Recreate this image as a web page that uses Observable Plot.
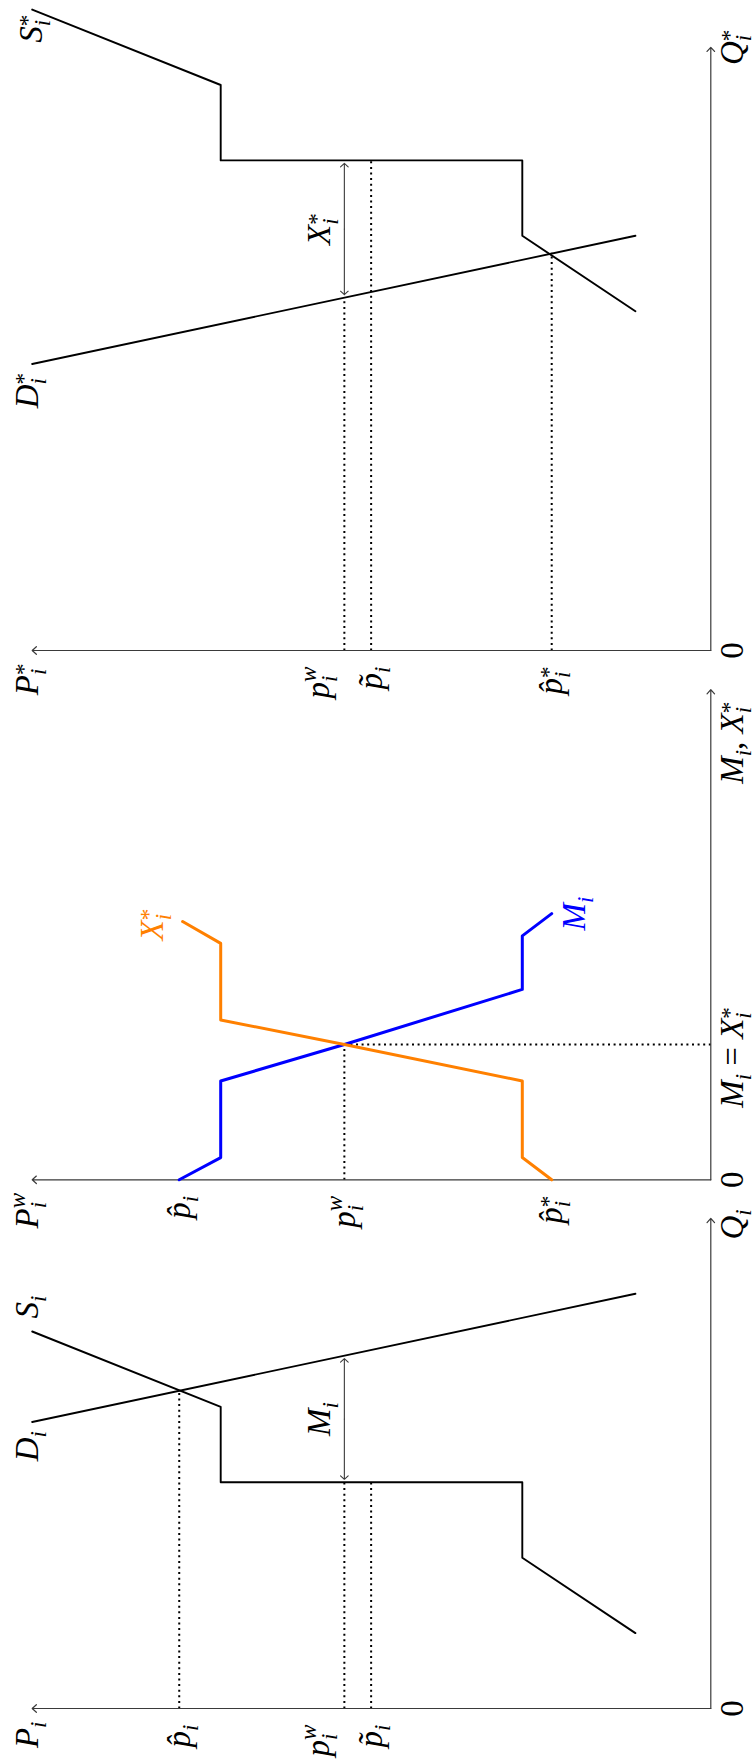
<!DOCTYPE html>
<html><head><meta charset="utf-8">
<script src="https://cdn.jsdelivr.net/npm/d3@7"></script>
<script src="https://cdn.jsdelivr.net/npm/@observablehq/plot@0.6"></script>
<style>
html,body{margin:0;padding:0;background:#fff;overflow:hidden;width:755px;height:1761px;}
#stage{position:absolute;left:0;top:0;width:1761px;height:755px;transform-origin:0 0;transform:translate(0px,1761px) rotate(-90deg);}
#stage svg{position:absolute;left:0;top:0;}
</style></head><body><div id="stage"></div>
<script>
// ---------- data (quantity Q, price P) ----------
const P_TOP = 18;
const Q_TOP = [13, 13, 16];
const pHat = 14.1;      // home autarky price
const pWorld = 9.72;    // world price
const pTilde = 9.01;
const pHatStar = 4.22;  // foreign autarky price

// home market
const homeSupplyQ = [2, 4, 6, 6, 8, 10];
const homeSupplyP = [2, 5, 5, 13, 13, 18];
const homeDemandQ = [7.6, 11];
const homeDemandP = [18, 2];
const homeAutarkyQ = 8.43;

// trade panel
const importQ = [0, 0.59, 2.62, 3.59, 5.05, 6.47, 7.06];
const importP = [14.1, 13, 13, 9.72, 5, 5, 4.22];
const exportQ = [0, 0.59, 2.62, 3.59, 4.24, 6.27, 6.85];
const exportP = [4.22, 5, 5, 9.72, 13, 13, 14.01];
const tradeQ = 3.59;

// foreign market
const foreignSupplyQ = [9, 11, 13, 13, 15, 17];
const foreignSupplyP = [2, 5, 5, 13, 13, 18];
const foreignDemandQ = [7.6, 11];
const foreignDemandP = [18, 2];
const foreignAutarkyQ = 10.55;

// labels
const axisLabelsP = ["P_i", "P_i^w", "P_i^*"];
const axisLabelsQ = ["Q_i", "M_i, X_i^*", "Q_i^*"];
const homeTickP = [pHat, pTilde];
const homeTickText = ["p\u0302_i", "p\u0303_i"];
const tradeTickP = [pHat, pWorld, pHatStar];
const tradeTickText = ["p\u0302_i", "p_i^w", "p\u0302_i^*"];
const foreignTickP = [pTilde, pHatStar];
const foreignTickText = ["p\u0303_i", "p\u0302_i^*"];
const raisedTickText = "p_i^w";

// ---------- layout & style ----------
const UNIT = 37.7, OY = 710.3;
const ORIGIN_X = [52, 580.7, 1110];
const FS = 33, FONT = "Liberation Serif";
const AXIS = "#3a3a3a";
const ORANGE = "#ff8000", BLUE = "#0000ff";
const DOT = {stroke: "black", strokeWidth: 2, strokeDasharray: "2,3.6"};

const zip = (qs, ps) => qs.map((q, i) => ({q, p: ps[i]}));
const lineQ = (qs, ps, p) => qs[0] + (p - ps[0]) * (qs[1] - qs[0]) / (ps[1] - ps[0]);
const txt = (o) => ({fontFamily: FONT, fontSize: FS, fill: "black", ...o});

function axes(k) {
  return Plot.arrow([{x1: 0, y1: 0, x2: 0, y2: P_TOP}, {x1: 0, y1: 0, x2: Q_TOP[k], y2: 0}],
    {x1: "x1", y1: "y1", x2: "x2", y2: "y2", stroke: AXIS, strokeWidth: 1.2, headLength: 7, headAngle: 84});
}
function axisText(k) {
  return [
    Plot.text([{q: 0, p: P_TOP, t: axisLabelsP[k]}], txt({x: "q", y: "p", text: "t", textAnchor: "end", lineAnchor: "middle", dx: -13, dy: -5})),
    Plot.text([{q: 0, p: 0, t: "0"}], txt({x: "q", y: "p", text: "t", textAnchor: "middle", lineAnchor: "top", dy: 9}))
  ];
}
function ticks(ps, ts) {
  return Plot.text(ps.map((p, i) => ({q: 0, p, t: ts[i]})), txt({x: "q", y: "p", text: "t", textAnchor: "end", lineAnchor: "middle", dx: -16}));
}
function dbl(q1, q2, p) {
  const m = (q1 + q2) / 2;
  return Plot.arrow([{a: m, b: q1, p}, {a: m, b: q2, p}],
    {x1: "a", x2: "b", y1: "p", y2: "p", stroke: AXIS, strokeWidth: 1.1, headLength: 7, headAngle: 96, insetEnd: 3});
}
function panel(k, marks) {
  const ox = ORIGIN_X[k];
  return Plot.plot({
    width: 1761, height: 755,
    margin: 0,
    x: {axis: null, domain: [0, Q_TOP[k]], range: [ox, ox + Q_TOP[k] * UNIT]},
    y: {axis: null, domain: [0, P_TOP], range: [OY, OY - P_TOP * UNIT]},
    style: {background: "transparent", overflow: "visible", maxWidth: "none"},
    marks
  });
}

// ---------- panel 1 : home ----------
const dHomeW = lineQ(homeDemandQ, homeDemandP, pWorld);
const p1 = panel(0, [
  Plot.link([{p: pHat, q: homeAutarkyQ}, {p: pWorld, q: 6}, {p: pTilde, q: 6}],
    {x1: 0, x2: "q", y1: "p", y2: "p", ...DOT}),
  axes(0),
  Plot.line(zip(homeSupplyQ, homeSupplyP), {x: "q", y: "p", stroke: "black", strokeWidth: 1.9}),
  Plot.line(zip(homeDemandQ, homeDemandP), {x: "q", y: "p", stroke: "black", strokeWidth: 1.9}),
  dbl(6, dHomeW, pWorld),
  ...axisText(0),
  ticks(homeTickP, homeTickText),
  Plot.text([{q: 0, p: pWorld, t: raisedTickText}], txt({x: "q", y: "p", text: "t", textAnchor: "end", lineAnchor: "bottom", dx: -16, dy: -15})),
  Plot.text([{q: Q_TOP[0], p: 0, t: axisLabelsQ[0]}], txt({x: "q", y: "p", text: "t", textAnchor: "middle", lineAnchor: "top", dx: -6, dy: 9})),
  Plot.text([{q: homeDemandQ[0], p: homeDemandP[0], t: "D_i"}], txt({x: "q", y: "p", text: "t", textAnchor: "end", lineAnchor: "middle", dx: -9, dy: -5})),
  Plot.text([{q: homeSupplyQ[5], p: homeSupplyP[5], t: "S_i"}], txt({x: "q", y: "p", text: "t", textAnchor: "start", lineAnchor: "middle", dx: 13, dy: -5})),
  Plot.text([{q: (6 + dHomeW) / 2, p: pWorld, t: "M_i"}], txt({x: "q", y: "p", text: "t", textAnchor: "middle", lineAnchor: "bottom", dy: -14}))
]);

// ---------- panel 2 : trade ----------
const p2 = panel(1, [
  Plot.link([{q1: 0, q2: tradeQ, p1: pWorld, p2: pWorld}, {q1: tradeQ, q2: tradeQ, p1: 0, p2: pWorld}],
    {x1: "q1", x2: "q2", y1: "p1", y2: "p2", ...DOT}),
  axes(1),
  Plot.line(zip(importQ, importP), {x: "q", y: "p", stroke: BLUE, strokeWidth: 3}),
  Plot.line(zip(exportQ, exportP), {x: "q", y: "p", stroke: ORANGE, strokeWidth: 3}),
  ...axisText(1),
  ticks(tradeTickP, tradeTickText),
  Plot.text([{q: tradeQ, p: 0, t: "M_i = X_i^*"}], txt({x: "q", y: "p", text: "t", textAnchor: "middle", lineAnchor: "top", dx: -13, dy: 9})),
  Plot.text([{q: Q_TOP[1], p: 0, t: axisLabelsQ[1]}], txt({x: "q", y: "p", text: "t", textAnchor: "end", lineAnchor: "top", dx: -12, dy: 9})),
  Plot.text([{q: exportQ[6], p: exportP[6], t: "X_i^*"}], txt({x: "q", y: "p", text: "t", fill: ORANGE, textAnchor: "middle", lineAnchor: "bottom", dx: -3, dy: -20})),
  Plot.text([{q: importQ[6], p: importP[6], t: "M_i"}], txt({x: "q", y: "p", text: "t", fill: BLUE, textAnchor: "middle", lineAnchor: "top", dy: 10}))
]);

// ---------- panel 3 : foreign ----------
const dForW = lineQ(foreignDemandQ, foreignDemandP, pWorld);
const p3 = panel(2, [
  Plot.link([{p: pWorld, q: dForW}, {p: pTilde, q: 13}, {p: pHatStar, q: foreignAutarkyQ}],
    {x1: 0, x2: "q", y1: "p", y2: "p", ...DOT}),
  axes(2),
  Plot.line(zip(foreignSupplyQ, foreignSupplyP), {x: "q", y: "p", stroke: "black", strokeWidth: 1.9}),
  Plot.line(zip(foreignDemandQ, foreignDemandP), {x: "q", y: "p", stroke: "black", strokeWidth: 1.9}),
  dbl(dForW, 13, pWorld),
  ...axisText(2),
  ticks(foreignTickP, foreignTickText),
  Plot.text([{q: 0, p: pWorld, t: raisedTickText}], txt({x: "q", y: "p", text: "t", textAnchor: "end", lineAnchor: "bottom", dx: -16, dy: -15})),
  Plot.text([{q: Q_TOP[2], p: 0, t: axisLabelsQ[2]}], txt({x: "q", y: "p", text: "t", textAnchor: "middle", lineAnchor: "top", dy: 9})),
  Plot.text([{q: foreignDemandQ[0], p: foreignDemandP[0], t: "D_i^*"}], txt({x: "q", y: "p", text: "t", textAnchor: "end", lineAnchor: "middle", dx: -9, dy: -5})),
  Plot.text([{q: foreignSupplyQ[5], p: foreignSupplyP[5], t: "S_i^*"}], txt({x: "q", y: "p", text: "t", textAnchor: "end", lineAnchor: "middle", dx: -5, dy: -1})),
  Plot.text([{q: (dForW + 13) / 2, p: pWorld, t: "X_i^*"}], txt({x: "q", y: "p", text: "t", textAnchor: "middle", lineAnchor: "bottom", dy: -14}))
]);

const stage = document.getElementById("stage");
[p1, p2, p3].forEach(s => stage.appendChild(s));

// ---------- math-style typesetting of labels (sub/superscripts) ----------
const SVGNS = "http://www.w3.org/2000/svg";
function typeset(svg) {
  for (const t of svg.querySelectorAll("text")) {
    const src = t.textContent;
    t.textContent = "";
    t.style.whiteSpace = "pre";
    let shift = 0, lastSub = null, i = 0;
    while (i < src.length) {
      let kind = "base";
      if (src[i] === "_" || src[i] === "^") { kind = src[i] === "_" ? "sub" : "sup"; i++; }
      let tok = src[i++];
      while (i < src.length && /[\u0300-\u036f]/.test(src[i])) tok += src[i++];
      const ts = document.createElementNS(SVGNS, "tspan");
      ts.textContent = tok;
      ts.setAttribute("font-style", /[A-Za-z]/.test(tok) ? "italic" : "normal");
      if (kind !== "base") ts.setAttribute("font-size", FS * 0.7);
      const target = kind === "sub" ? FS * 0.24 : kind === "sup" ? (tok === "*" ? -FS * 0.2 : -FS * 0.4) : 0;
      if (target !== shift) { ts.setAttribute("dy", target - shift); shift = target; }
      t.appendChild(ts);
      if (kind === "sup" && lastSub) ts.setAttribute("dx", -lastSub.getComputedTextLength());
      lastSub = kind === "sub" ? ts : null;
    }
  }
}
[p1, p2, p3].forEach(typeset);
</script></body></html>
